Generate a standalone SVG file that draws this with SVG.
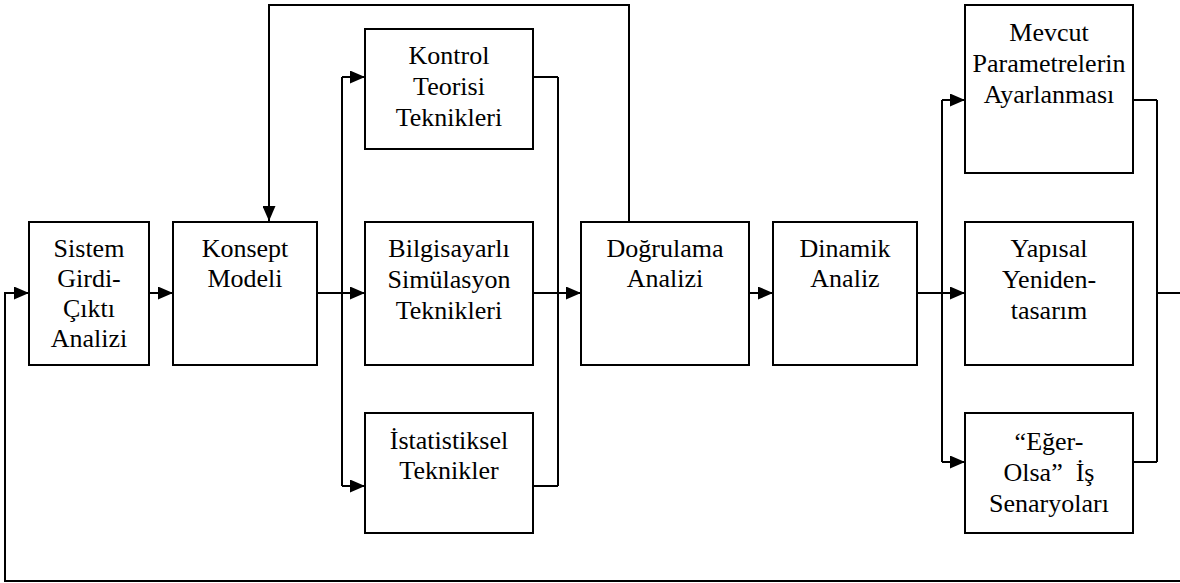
<svg xmlns="http://www.w3.org/2000/svg" width="1180" height="583" viewBox="0 0 1180 583">
<style>
.box{fill:#fff;stroke:#000;stroke-width:2}
.ln{fill:none;stroke:#000;stroke-width:2}
.ar{marker-end:url(#ah)}
text{font-family:"Liberation Serif","Times New Roman",serif;font-size:26px;fill:#000;text-anchor:middle}
</style>
<defs>
<marker id="ah" markerUnits="userSpaceOnUse" markerWidth="15" markerHeight="13" refX="15" refY="6.5" orient="auto">
<path d="M0,0 L15,6.5 L0,13 z" fill="#000"/>
</marker>
</defs>
<rect width="1180" height="583" fill="#fff"/>
<g id="connectors">
<path class="ln ar" d="M149,293 H173"/>
<path class="ln" d="M317,293 H342 M342,77 V486"/>
<path class="ln ar" d="M342,77 H365"/>
<path class="ln ar" d="M342,293 H365"/>
<path class="ln ar" d="M342,486 H365"/>
<path class="ln" d="M533,77 H558 M533,293 H558 M533,486 H558 M558,77 V486"/>
<path class="ln ar" d="M558,293 H581"/>
<path class="ln ar" d="M749,293 H773"/>
<path class="ln" d="M917,293 H942 M942,100 V462"/>
<path class="ln ar" d="M942,100 H965"/>
<path class="ln ar" d="M942,293 H965"/>
<path class="ln ar" d="M942,462 H965"/>
<path class="ln" d="M1133,100 H1157 M1133,462 H1157 M1157,100 V462"/>
<path class="ln ar" d="M1157,293 H1183 V581 H5 V293 H29"/>
<path class="ln ar" d="M629,222 V5 H269 V221"/>
</g>
<g id="sistem"><rect class="box" x="29" y="222" width="120" height="143"/>
<text x="89" y="257">Sistem</text><text x="89" y="287">Girdi-</text><text x="89" y="317">Çıktı</text><text x="89" y="347">Analizi</text></g>
<g id="konsept"><rect class="box" x="173" y="222" width="144" height="143"/>
<text x="245" y="257">Konsept</text><text x="245" y="287">Modeli</text></g>
<g id="kontrol"><rect class="box" x="365" y="29" width="168" height="120"/>
<text x="449" y="64">Kontrol</text><text x="449" y="95">Teorisi</text><text x="449" y="126">Teknikleri</text></g>
<g id="bilgisayarli"><rect class="box" x="365" y="222" width="168" height="143"/>
<text x="449" y="257">Bilgisayarlı</text><text x="449" y="288">Simülasyon</text><text x="449" y="319">Teknikleri</text></g>
<g id="istatistiksel"><rect class="box" x="365" y="413" width="168" height="120"/>
<text x="449" y="449">İstatistiksel</text><text x="449" y="479">Teknikler</text></g>
<g id="dogrulama"><rect class="box" x="581" y="222" width="168" height="143"/>
<text x="665" y="257">Doğrulama</text><text x="665" y="287">Analizi</text></g>
<g id="dinamik"><rect class="box" x="773" y="222" width="144" height="143"/>
<text x="845" y="257">Dinamik</text><text x="845" y="287">Analiz</text></g>
<g id="mevcut"><rect class="box" x="965" y="5" width="168" height="168"/>
<text x="1049" y="41">Mevcut</text><text x="1049" y="72">Parametrelerin</text><text x="1049" y="103">Ayarlanması</text></g>
<g id="yapisal"><rect class="box" x="965" y="222" width="168" height="143"/>
<text x="1049" y="257">Yapısal</text><text x="1049" y="288">Yeniden-</text><text x="1049" y="319">tasarım</text></g>
<g id="eger"><rect class="box" x="965" y="413" width="168" height="120"/>
<text x="1049" y="450">“Eğer-</text><text x="1049" y="481" xml:space="preserve">Olsa”  İş</text><text x="1049" y="512">Senaryoları</text></g>
</svg>
